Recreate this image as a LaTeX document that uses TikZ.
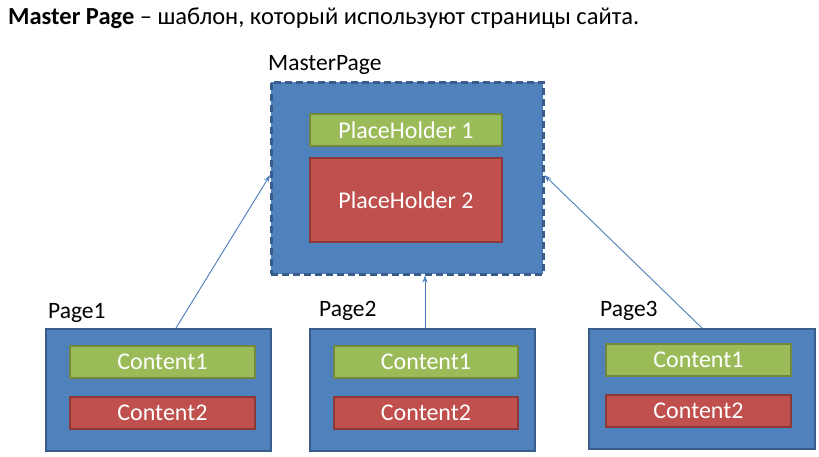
\documentclass[tikz,border=0pt]{standalone}
\usepackage{fontspec}
\setmainfont{Carlito}
\usetikzlibrary{arrows.meta}
\definecolor{bfill}{HTML}{4F81BD}
\definecolor{bline}{HTML}{385D8A}
\definecolor{gfill}{HTML}{9BBB59}
\definecolor{gline}{HTML}{71893F}
\definecolor{rfill}{HTML}{C0504D}
\definecolor{rline}{HTML}{8C3836}
\definecolor{arr}{HTML}{4A7EBB}
\tikzset{
  pagebox/.style={draw=bline, fill=bfill, line width=2pt, inner sep=0pt, anchor=north west},
  greenbox/.style={draw=gline, fill=gfill, line width=2pt, inner sep=0pt, anchor=north west, text=white, font=\fontsize{24}{28}\selectfont},
  redbox/.style={draw=rline, fill=rfill, line width=2pt, inner sep=0pt, anchor=north west, text=white, font=\fontsize{24}{28}\selectfont},
  lbl/.style={inner sep=0pt, anchor=base west, font=\fontsize{23.5}{28}\selectfont},
  conn/.style={draw=arr, line width=0.9pt, -{Stealth[length=7pt,width=5pt]}}
}
\begin{document}
\begin{tikzpicture}[x=1pt,y=-1pt]
\useasboundingbox (0,0) rectangle (819,456);
\node[inner sep=0pt, anchor=base west, font=\fontsize{24.5}{28}\selectfont] (title) at (8,24)
  {\textbf{Master Page} – шаблон, который используют страницы сайта.};
% master
\node[pagebox, dashed, dash pattern=on 7pt off 4pt, line width=2.5pt, minimum width=272pt, minimum height=192pt] (master) at (270,81) {};
\node[greenbox, minimum width=192pt, minimum height=32pt] (ph1) at (309,113) {PlaceHolder 1};
\node[redbox, minimum width=192pt, minimum height=84pt] (ph2) at (309,157) {PlaceHolder 2};
\node[lbl] (mlbl) at (268,70) {MasterPage};
% page1
\node[pagebox, minimum width=225pt, minimum height=122pt] (p1) at (45,328) {};
\node[greenbox, minimum width=185pt, minimum height=32pt] (p1c1) at (69,345) {Content1};
\node[redbox, minimum width=185pt, minimum height=32pt] (p1c2) at (69,396) {Content2};
\node[lbl] (p1l) at (48,318) {Page1};
% page2
\node[pagebox, minimum width=225pt, minimum height=122pt] (p2) at (309,328) {};
\node[greenbox, minimum width=184pt, minimum height=32pt] (p2c1) at (333,345) {Content1};
\node[redbox, minimum width=184pt, minimum height=32pt] (p2c2) at (333,396) {Content2};
\node[lbl] (p2l) at (319,316) {Page2};
% page3
\node[pagebox, minimum width=226pt, minimum height=120pt] (p3) at (588,328) {};
\node[greenbox, minimum width=185pt, minimum height=32pt] (p3c1) at (605,343) {Content1};
\node[redbox, minimum width=185pt, minimum height=32pt] (p3c2) at (605,394) {Content2};
\node[lbl] (p3l) at (600,316) {Page3};
% connectors
\draw[conn] ([xshift=17.5pt]p1.north) -- ([yshift=3pt]master.west);
\draw[conn] ([xshift=2.5pt]p2.north) -- ([xshift=2.5pt]p2.north |- master.south);
\draw[conn] (p3.north) -- ([yshift=3pt]master.east);
\end{tikzpicture}
\end{document}
